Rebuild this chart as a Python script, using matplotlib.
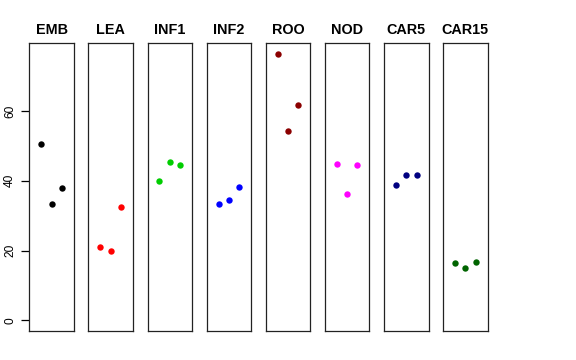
import matplotlib
matplotlib.use("Agg")
import matplotlib.pyplot as plt

# ---------- dados ----------
grupos = ["EMB", "LEA", "INF1", "INF2", "ROO", "NOD", "CAR5", "CAR15"]
cores = ["#000000", "#FF0000", "#00CD00", "#0000FF",
         "#8B0000", "#FF00FF", "#000080", "#006400"]
valores = {
    "EMB":   [50.6, 33.4, 37.8],
    "LEA":   [21.1, 19.8, 32.5],
    "INF1":  [39.9, 45.3, 44.6],
    "INF2":  [33.3, 34.4, 38.3],
    "ROO":   [76.4, 54.2, 61.7],
    "NOD":   [44.7, 36.2, 44.4],
    "CAR5":  [38.9, 41.7, 41.7],
    "CAR15": [16.4, 15.1, 16.7],
}
replicas = [1, 2, 3]
yticks = [0, 20, 40, 60]

plt.rcParams["font.family"] = ["Liberation Sans", "DejaVu Sans"]

W, H = 576, 360
fig = plt.figure(figsize=(W / 100, H / 100), dpi=100)

ymax = max(max(v) for v in valores.values())
ylim = (0 - 0.04 * ymax, ymax + 0.04 * ymax)
xlim = (0 - 0.16, 4 + 0.16)

top, bottom = 43, 331
esq0, passo, larg = 29.3, 59.1, 44.6

for i, (g, c) in enumerate(zip(grupos, cores)):
    x0 = esq0 + i * passo
    ax = fig.add_axes([x0 / W, 1 - bottom / H, larg / W, (bottom - top) / H])
    ax.plot(replicas, valores[g], "o", color=c, markersize=4.6, markeredgewidth=0)
    ax.set_xlim(*xlim)
    ax.set_ylim(*ylim)
    ax.set_xticks([])
    for s in ax.spines.values():
        s.set_linewidth(0.9)
        s.set_color("#222222")
    ax.set_title(g, fontsize=10.4, fontweight="bold", pad=6.5)
    if i == 0:
        ax.set_yticks(yticks)
        ax.set_yticklabels([str(t) for t in yticks], rotation=90, va="center",
                           fontsize=8.6)
        ax.tick_params(axis="y", length=5.5, width=0.9, pad=4)
    else:
        ax.set_yticks([])

fig.savefig("out.png", dpi=100)
